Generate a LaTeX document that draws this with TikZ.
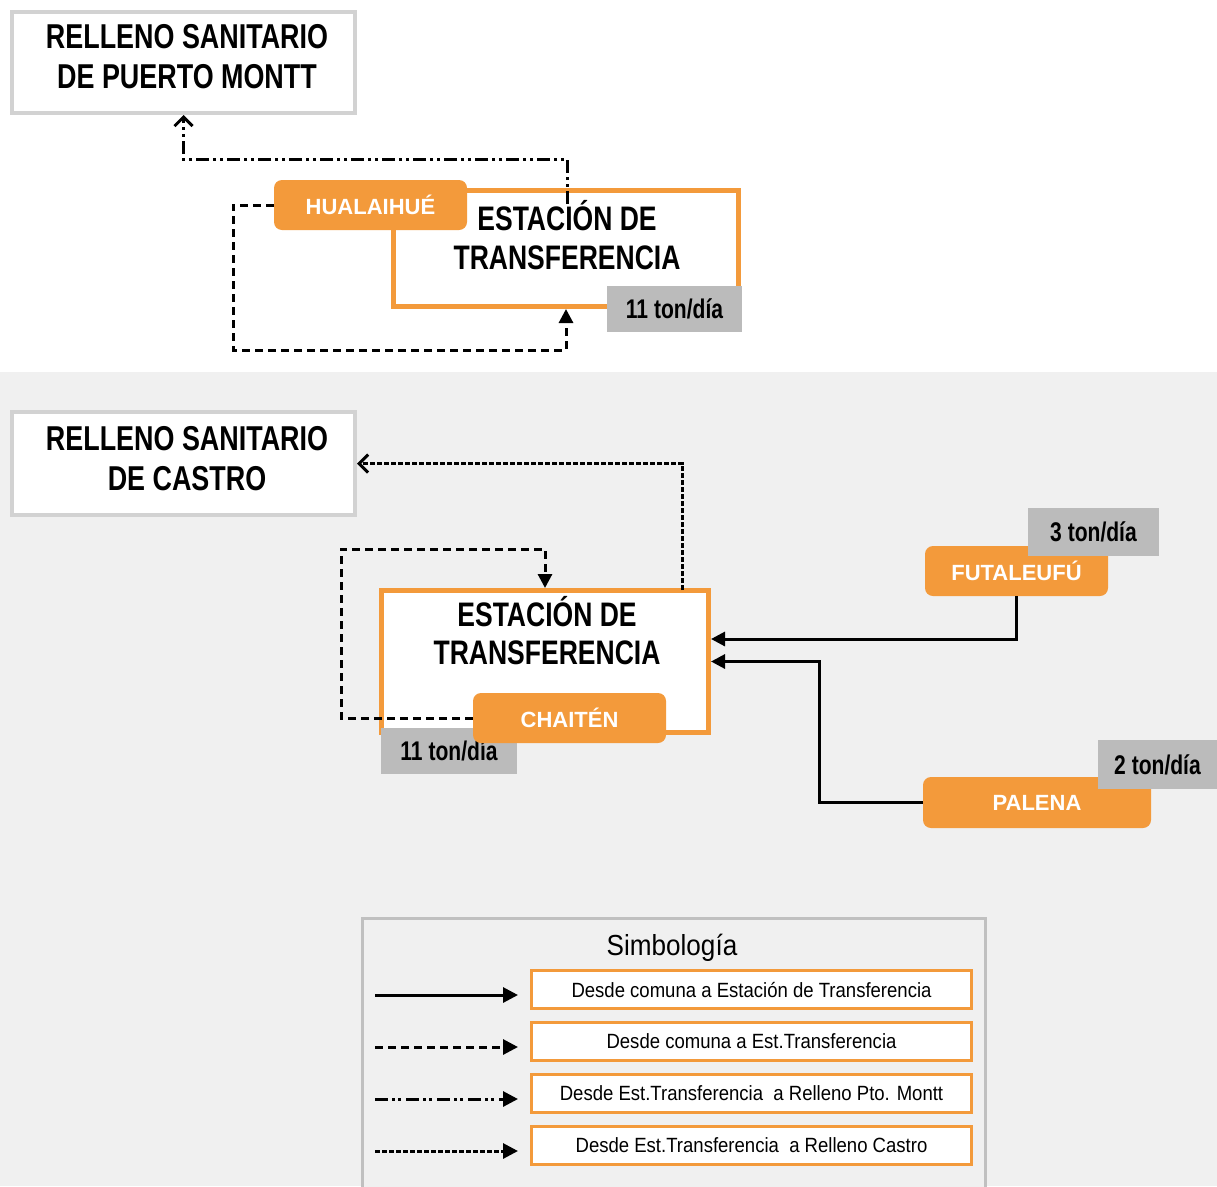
\documentclass[tikz,border=0pt]{standalone}
\usepackage{fontspec}
\setmainfont{Liberation Sans}
\newfontfamily\cond[FakeStretch=0.78]{Liberation Sans}
\newfontfamily\condr[FakeStretch=0.9]{Liberation Sans}
\usetikzlibrary{arrows.meta,calc}
\definecolor{orng}{HTML}{F39A3B}
\definecolor{labgray}{HTML}{BBBBBB}
\definecolor{boxgray}{HTML}{D2D2D2}
\definecolor{bggray}{HTML}{F0F0F0}
\definecolor{leggray}{HTML}{C0C0C0}
\tikzset{
  titlebox/.style={draw=boxgray, line width=4pt, fill=white, inner sep=0pt},
  titletxt/.style={align=center, inner sep=0pt, font=\cond\bfseries\fontsize{34.5}{40}\selectfont},
  estbox/.style={draw=orng, line width=5pt, fill=white, inner sep=0pt},
  esttxt/.style={align=center, inner sep=0pt, font=\cond\bfseries\fontsize{34}{39}\selectfont},
  comuna/.style={fill=orng, rounded corners=8pt, text=white, inner sep=0pt,
    font=\bfseries\fontsize{22}{26}\selectfont},
  tonlab/.style={fill=labgray, inner sep=0pt, font=\cond\bfseries\fontsize{27}{30}\selectfont},
  legbox/.style={draw=orng, line width=2.5pt, fill=white, minimum width=440pt, minimum height=38pt,
    inner sep=0pt, font=\condr\fontsize{20.6}{24}\selectfont},
  conn/.style={line width=3pt, black},
  tipf/.style={-{Triangle[length=14pt,width=14pt]}},
  tipo/.style={-{Straight Barb[length=9pt,width=18pt]}},
  dsh/.style={dash pattern=on 8pt off 5pt},
  ddot/.style={dash pattern=on 13pt off 4pt on 3pt off 4pt on 3pt off 4pt},
  fdsh/.style={dash pattern=on 5pt off 2pt},
}
\begin{document}
\begin{tikzpicture}[x=1pt,y=-1pt]
\useasboundingbox (0,0) rectangle (1217,1186);
\fill[white] (0,0) rectangle (1217,372);
\fill[bggray] (0,372) rectangle (1217,1186);

% ---------- Puerto Montt section ----------
\node[titlebox, minimum width=343pt, minimum height=101pt] (pm) at (183.5,62.5) {};
\node[titletxt] (pmt) at (187,57) {RELLENO SANITARIO\\DE PUERTO MONTT};
\node[estbox, minimum width=345pt, minimum height=116pt] (est1) at (566,248.5) {};
\node[esttxt] (est1t) at (567,235) {ESTACIÓN DE\\TRANSFERENCIA};
\node[comuna, minimum width=193pt, minimum height=50pt] (hua) at (370.5,205) {HUALAIHUÉ};
\node[tonlab, minimum width=135pt, minimum height=46pt] (ton1) at (674.5,309) {11 ton/día};

\coordinate (dd1) at (567,204);
\draw[conn, ddot, tipo] (dd1) -- (567,159) -| (pm.south);
\draw[conn, dsh, tipf] (hua.west) -| (233,350) -| (est1.south);

% ---------- Castro section ----------
\node[titlebox, minimum width=343pt, minimum height=103pt] (cas) at (183.5,463.5) {};
\node[titletxt] (cast) at (187,459) {RELLENO SANITARIO\\DE CASTRO};
\node[estbox, minimum width=327pt, minimum height=142pt] (est2) at (545,661.5) {};
\node[esttxt, font=\cond\bfseries\fontsize{34}{38}\selectfont] (est2t) at (547,631) {ESTACIÓN DE\\TRANSFERENCIA};
\node[tonlab, minimum width=136pt, minimum height=46pt] (ton2) at (449,751) {11 ton/día};
\node[comuna, minimum width=193pt, minimum height=50pt] (cha) at (569.5,718) {CHAITÉN};

\node[comuna, minimum width=183pt, minimum height=50pt] (fut) at (1016.5,571) {FUTALEUFÚ};
\node[tonlab, minimum width=131pt, minimum height=48pt] (ton3) at (1093.5,532) {3 ton/día};
\node[comuna, minimum width=228pt, minimum height=51pt] (pal) at (1037,802.5) {PALENA};
\node[tonlab, minimum width=119pt, minimum height=49pt] (ton4) at (1157.5,764.5) {2 ton/día};

\draw[conn, dsh, tipf] (cha.west) -| (341,549) -| (est2.north);
\coordinate (dt1) at (682,590);
\draw[conn, fdsh, tipo] (dt1) |- (cas.east);
\draw[conn, tipf] (fut.south) |- ($(est2.east)+(0,-22.5)$);
\draw[conn, tipf] (pal.west) -| ($(est2.east)+(108.5,0)$) -- (est2.east);

% ---------- Legend ----------
\draw[leggray, line width=3pt, fill=bggray] (362.5,918.5) rectangle (985.5,1200);
\node[inner sep=0pt, font=\condr\fontsize{29}{32}\selectfont] (simb) at (672,948) {Simbología};
\node[legbox] (lg1) at (751.5,989.5) {Desde comuna a Estación de Transferencia};
\node[legbox] (lg2) at (751.5,1041.5) {Desde comuna a Est.Transferencia};
\node[legbox] (lg3) at (751.5,1093.5) {Desde Est.Transferencia\ \ a Relleno Pto. Montt};
\node[legbox] (lg4) at (751.5,1145.5) {Desde Est.Transferencia\ \ a Relleno Castro};

\coordinate (la1) at (375,995);  \coordinate (lb1) at (518,995);
\coordinate (la2) at (375,1047); \coordinate (lb2) at (518,1047);
\coordinate (la3) at (375,1099); \coordinate (lb3) at (518,1099);
\coordinate (la4) at (375,1151); \coordinate (lb4) at (518,1151);
\tikzset{legtip/.style={-{Triangle[length=15pt,width=15pt]}}}
\draw[conn, legtip] (la1) -- (lb1);
\draw[conn, dsh, legtip] (la2) -- (lb2);
\draw[conn, dash pattern=on 13pt off 4pt on 3pt off 3pt on 3pt off 5pt, legtip] (la3) -- (lb3);
\draw[conn, fdsh, legtip] (la4) -- (lb4);
\end{tikzpicture}
\end{document}
